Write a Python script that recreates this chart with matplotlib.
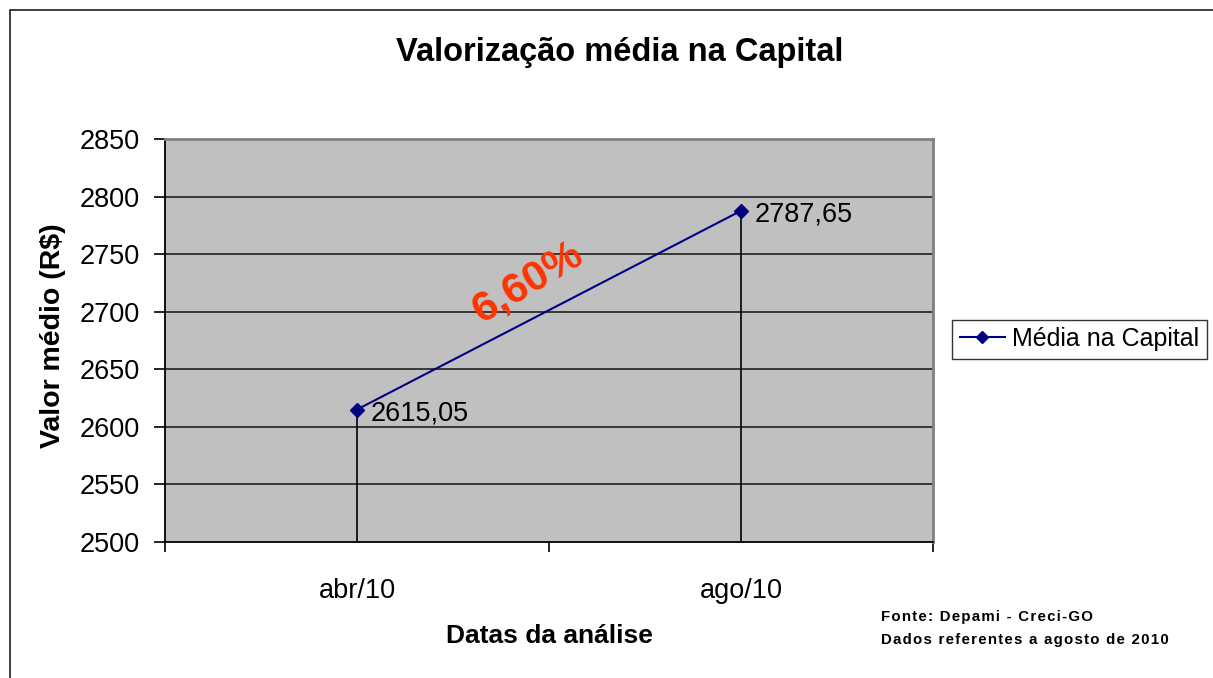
import matplotlib.pyplot as plt
from matplotlib.patches import Rectangle

# data
datas = ['abr/10', 'ago/10']
valores = [2615.05, 2787.65]
rotulos = ['2615,05', '2787,65']
y_ticks = [2500, 2550, 2600, 2650, 2700, 2750, 2800, 2850]
variacao = '6,60%'
fonte = ['Fonte: Depami - Creci-GO', 'Dados referentes a agosto de 2010']

plt.rcParams['font.family'] = ['Liberation Sans', 'DejaVu Sans']


def espacado(s):
    # loose letter spacing, like the original footnote
    return '\u200a'.join(s)


W, H = 1213, 678
fig = plt.figure(figsize=(W / 100, H / 100), dpi=100)
fig.patch.set_facecolor('white')

# outer chart frame (right/bottom edges fall outside the image)
fig.add_artist(Rectangle((10 / W, -0.05), 1.2, 1 - 10 / H + 0.05,
                         transform=fig.transFigure, fill=False,
                         edgecolor='#303030', linewidth=1.3))

ax = fig.add_axes([165 / W, 1 - 542 / H, (933 - 165) / W, (542 - 139) / H])
ax.set_facecolor('#C0C0C0')

x = list(range(len(datas)))
ax.set_xlim(-0.5, len(datas) - 0.5)
ax.set_ylim(y_ticks[0], y_ticks[-1])

# grid
for yv in y_ticks[1:-1]:
    ax.axhline(yv, color='#202020', linewidth=1.2, zorder=1)

# drop lines
ax.vlines(x, y_ticks[0], valores, color='black', linewidth=1.2, zorder=2)

ax.plot(x, valores, color='#000080', linewidth=1.5, marker='D', markersize=7,
        zorder=3, label='Média na Capital')

for xi, v, lab in zip(x, valores, rotulos):
    ax.annotate(lab, (xi, v), xytext=(10, -3), textcoords='offset points',
                ha='left', va='center', fontsize=19.5, color='black')

# percentage annotation along the line
ax.text(0.445, 2725, variacao, rotation=31, ha='center', va='center',
        fontsize=31, fontweight='bold', color='#FF3300', zorder=4)

ax.set_yticks(y_ticks)
ax.set_yticklabels([str(t) for t in y_ticks], fontsize=19.5)
ax.set_xticks([-0.5, 0.5, 1.5], minor=False)
ax.set_xticklabels([])
ax.set_xticks(x, minor=True)
ax.set_xticklabels(datas, minor=True, fontsize=19.5)
ax.tick_params(axis='x', which='major', direction='out', length=7, width=1.2)
ax.tick_params(axis='x', which='minor', length=0, pad=26)
ax.tick_params(axis='y', direction='out', length=8, width=1.2, pad=10)

for side in ['left', 'bottom']:
    ax.spines[side].set_color('black')
    ax.spines[side].set_linewidth(1.3)
for side in ['top', 'right']:
    ax.spines[side].set_color('#808080')
    ax.spines[side].set_linewidth(2)

fig.text(620 / W, 1 - 52 / H, 'Valorização média na Capital', ha='center',
         va='center', fontsize=23.5, fontweight='bold')
fig.text(53 / W, 1 - 336 / H, 'Valor médio (R$)', ha='center', va='center',
         rotation=90, fontsize=20.5, fontweight='bold')
fig.text(549 / W, 1 - 636 / H, 'Datas da análise', ha='center', va='center',
         fontsize=19, fontweight='bold')

fig.text(881 / W, 1 - 617 / H, espacado(fonte[0]), ha='left',
         va='center', fontsize=10.8, fontweight='bold')
fig.text(881 / W, 1 - 640 / H, espacado(fonte[1]), ha='left',
         va='center', fontsize=10.8, fontweight='bold')

leg = ax.legend(loc='center left', bbox_to_anchor=(952 / W, 1 - 339 / H),
                bbox_transform=fig.transFigure, fontsize=18, frameon=True,
                fancybox=False, borderaxespad=0, handlelength=1.8,
                handletextpad=0.3, borderpad=0.3, markerscale=0.85)
leg.get_frame().set_edgecolor('black')
leg.get_frame().set_linewidth(1.0)

fig.savefig('out.png', dpi=100)
